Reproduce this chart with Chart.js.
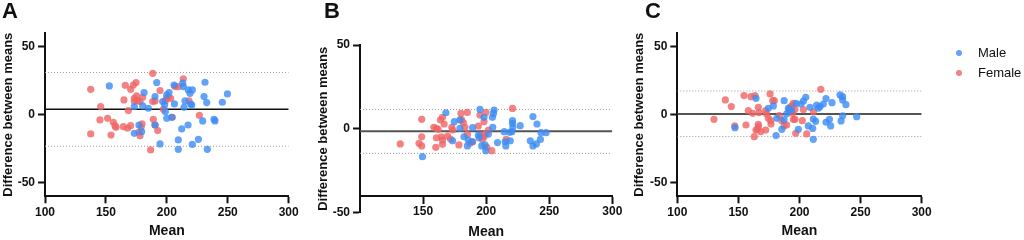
<!DOCTYPE html>
<html lang="en">
<head>
    <meta charset="UTF-8" />
    <title>Bland-Altman by sex</title>
    <script src="https://cdn.jsdelivr.net/npm/chart.js@4.4.1/dist/chart.umd.min.js"></script>
    <style>
        body { margin: 0; background: #fff; }
        #wrap { position: relative; width: 1024px; height: 240px; overflow: hidden; }
        #wrap canvas { position: absolute; left: 0; top: 0; }
        .legend { position: absolute; left: 955px; font: 13px "Liberation Sans", Arial, sans-serif; color: #111; }
        .legend .row { position: absolute; left: 0; height: 16px; line-height: 16px; white-space: nowrap; }
        .legend .dot { position: absolute; left: 1px; top: 5px; width: 6px; height: 6px; border-radius: 50%; }
        .legend .txt { position: absolute; left: 23px; top: 0; }
    </style>
</head>
<body>
<div id="wrap">
    <canvas id="chartA" width="1024" height="240"></canvas>
    <canvas id="chartB" width="1024" height="240"></canvas>
    <canvas id="chartC" width="1024" height="240"></canvas>
    <div class="legend">
        <div class="row" style="top:45px"><span class="dot" style="background:rgba(60,140,245,0.8)"></span><span class="txt">Male</span></div>
        <div class="row" style="top:65px"><span class="dot" style="background:rgba(240,100,100,0.8)"></span><span class="txt">Female</span></div>
    </div>
</div>

<script>
    // Panel A
    const aMaleX = [152.8, 181.3, 173.3, 180.2, 184.8, 190.3, 191.7, 196.6, 198.2, 199.9, 201.8, 198.8, 199.9, 206.2, 205.9, 213, 213.5, 214.1, 214.9, 217.6, 219, 220.9, 220.4, 230.5, 232.7, 231.3, 245.5, 249.7, 238.7, 239.5, 229.4, 217.4, 212.2, 177.1, 179.3, 173.3, 194.4, 209.4, 209.4, 220.9, 225.9, 233.2, 190.3, 204.0, 219.6];
    const aMaleY = [21.1, 16.2, 5.9, 6.4, 4.7, 13.3, 23.6, 9.6, 7.1, 14.5, 16.2, 2.2, -2.7, 7.9, 21.8, 23.1, 20.6, 5.4, 10.1, 18.2, 15.7, 18.2, 7.1, 13.3, 8.9, 23.8, 9.1, 15.2, -3.4, -4.6, -4.6, -7.6, -10.5, -7.6, -12.5, -13.7, -21.5, -18.6, -25.5, -21.8, -18.1, -25.5, -7.6, -2.0, 7.8];
    const aFemaleX = [137.5, 137.5, 145.7, 145.1, 151.4, 154.2, 156.1, 157.5, 158.3, 164.3, 164.8, 165.9, 168.4, 167.8, 170.3, 170.3, 172.5, 174.7, 173.3, 175.2, 173.3, 175.9, 178, 180.2, 177.1, 178.8, 179.6, 178, 188.4, 190.3, 188.9, 190.3, 192.5, 188.4, 194.4, 197.1, 198.8, 201.2, 199.9, 203.1, 204.5, 206.7, 209.4, 213.5, 218.2, 226.7, 186.7];
    const aFemaleY = [18.6, -14.2, 5.9, -3.9, -2.7, -15.0, -5.6, -8.3, -9.3, -8.8, 10.8, 21.6, 3.0, -10.0, 18.6, -8.1, 21.8, 23.6, 12.0, 13.8, 9.6, 10.3, 9.6, 12.8, -12.8, -9.3, -6.8, -15.5, 30.4, 10.1, -3.4, -7.6, -11.7, 9.6, 17.7, 3.9, 10.3, 12.8, 12.0, 12.0, -1.9, 20.6, 20.6, 26.3, 10.1, -0.5, -25.9];
    const aLines = { mean: 4.0, upper: 31.0, lower: -23.2 };

    // Panel B
    const bMaleX = [149.5, 168.1, 174.7, 179.2, 179.2, 173.4, 182.4, 185.8, 185.1, 189.3, 189, 193.8, 195.1, 194.4, 196.5, 199.1, 199.7, 198.3, 201.8, 205.2, 205, 205.8, 206.3, 209, 214.3, 215.1, 215.6, 219.1, 218.5, 220.4, 221.2, 220.9, 220.9, 227, 237.1, 240.3, 243.5, 247.5, 243, 235, 237.1, 239.8];
    const bMaleY = [-16.6, 9.6, 4.3, 0.3, 5.3, -7.1, -4.7, -6.7, -10.2, 0.7, -7.7, -3.7, 11.6, -5.3, -10.2, -9.6, -13.0, 6.9, -3.1, 0.9, 6.9, 9.2, 11.2, -8.2, -1.7, -7.7, -10.2, -7.1, -2.1, -1.7, 0.9, 4.9, 3.3, 1.9, 7.3, 2.9, -2.3, -2.3, -6.3, -7.1, -10.2, -9.0];
    const bFemaleX = [131.9, 146.8, 148.9, 148.9, 148.9, 158.5, 160.6, 161.9, 160.6, 160.1, 163.8, 165.4, 166.7, 164.6, 165.4, 165.4, 169.4, 171.8, 172.8, 173.4, 178.4, 180, 180.5, 181.9, 183.2, 185.1, 185.1, 187.2, 189.3, 193.8, 195.1, 198.3, 199.9, 195.7, 197, 198.3, 199.1, 200.5, 204.5, 201.8, 215.9, 220.9];
    const bFemaleY = [-9.0, -8.6, -10.2, 5.7, -4.7, 0.9, 0.3, -0.3, -5.3, -11.0, 5.3, 6.9, 2.9, -4.7, -6.7, -9.2, -4.3, -6.1, 0.9, -0.7, -9.6, 9.2, 5.3, 3.7, 0.9, 9.8, -3.3, -8.6, -7.7, 1.7, 8.2, 4.3, 9.8, -3.7, -6.3, -4.7, -3.1, -11.0, -13.0, -0.7, -6.3, 12.2];
    const bLines = { mean: -1.5, upper: 11.6, lower: -14.6 };

    // Panel C
    const cMaleX = [147.2, 164.4, 174.5, 178.6, 181.4, 180.8, 185.5, 187.4, 187.4, 189.5, 190.9, 191.4, 193.6, 197.2, 199.1, 201.2, 203.2, 205.1, 207.2, 208.6, 210.8, 211.3, 211.3, 213.2, 214, 215.4, 216.8, 219.5, 221.7, 221.7, 224.5, 225.5, 226.6, 233.2, 235.3, 235.3, 238, 235.3, 234, 246.8];
    const cMaleY = [-9.6, 12.0, 4.7, 6.4, -2.7, -15.4, -10.8, 10.3, -3.9, 0.5, 4.7, 3.4, 3.4, 8.3, -10.8, 7.8, 10.0, 12.7, -8.3, 5.4, -10.1, -18.1, -3.2, -4.9, 7.1, 4.7, 5.9, 7.8, 11.8, -5.6, -3.4, -8.3, 8.8, 14.5, 13.2, 10.8, 7.3, -0.9, -4.6, -1.5];
    const cFemaleX = [130, 139.3, 144.2, 147, 154.6, 156.2, 158.1, 160.3, 161.7, 163.6, 163, 164.4, 166.3, 166.9, 166.3, 166.3, 165.7, 168.2, 172.3, 173.1, 172.3, 174.5, 176.4, 176.7, 175.9, 178.1, 179.4, 183.5, 185.5, 187.4, 189.5, 192.2, 193.6, 195, 194.4, 195, 196.3, 196.3, 196.9, 202.3, 203.2, 205.9, 211.4, 217.4];
    const cFemaleY = [-3.4, 10.8, 5.9, -8.3, 14.0, -7.6, 2.9, 13.2, 1.0, 14.0, -16.2, -11.3, 5.4, 1.5, -7.1, -8.8, -10.8, -12.5, 2.9, 0.5, -11.3, -2.7, -4.4, -6.9, 15.2, 10.3, 10.3, -0.7, -4.4, -8.3, -7.6, 5.4, 6.4, 8.3, 1.0, -3.4, -3.4, 3.9, -13.7, -4.4, 3.7, -14.2, 2.2, 18.6];
    const cLines = { mean: 0.5, upper: 17.4, lower: -16.1 };

    const xTicks = [100, 150, 200, 250, 300];
    const yTicks = [-50, 0, 50];

    const MALE = "rgba(60,140,245,0.8)";
    const FEMALE = "rgba(240,100,100,0.8)";
    const FONT = "'Liberation Sans', Arial, sans-serif";
    const INK = "#111";

    function pts(xs, ys) {
        return xs.map((x, i) => ({ x, y: ys[i] }));
    }

    function hline(y, color, width, dash) {
        return {
            type: "line",
            data: [{ x: 100, y }, { x: 300, y }],
            borderColor: color,
            borderWidth: width,
            borderDash: dash,
            pointRadius: 0,
            order: 2,
        };
    }

    // draws the A / B / C letter
    const panelLetter = {
        id: "panelLetter",
        afterDraw(chart, args, opts) {
            const ctx = chart.ctx;
            ctx.save();
            ctx.font = "bold 22px " + FONT;
            ctx.fillStyle = INK;
            ctx.textBaseline = "alphabetic";
            ctx.fillText(opts.text, opts.x, opts.y);
            ctx.restore();
        },
    };

    function makePanel(id, p) {
        const axisFont = { family: FONT, size: 12, weight: "bold" };
        const xScale = {
            type: "linear",
            min: 100,
            max: 300,
            position: p.xPosition,
            afterBuildTicks: s => { s.ticks = p.xTicks.map(v => ({ value: v })); },
            afterFit: s => { s.height = p.xHeight; },
            border: { display: true, color: INK, width: 2 },
            grid: { display: true, drawOnChartArea: false, drawTicks: true, tickLength: 7, tickWidth: 2, tickColor: INK },
            ticks: { color: INK, font: axisFont, padding: 2, maxRotation: 0 },
            title: { display: true, text: "Mean", color: INK, font: { family: FONT, size: 14, weight: "bold" }, padding: { top: 0, bottom: 0 } },
        };
        const yScale = {
            type: "linear",
            min: p.yMin,
            max: p.yMax,
            afterBuildTicks: s => { s.ticks = yTicks.map(v => ({ value: v })); },
            afterFit: s => { s.width = p.yWidth; },
            border: { display: true, color: INK, width: 2 },
            grid: { display: true, drawOnChartArea: false, drawTicks: true, tickLength: 7, tickWidth: 2, tickColor: INK },
            ticks: { color: INK, font: axisFont, padding: 3 },
            title: { display: true, text: "Difference between means", color: INK, font: { family: FONT, size: 13, weight: "bold" }, padding: { top: 1, bottom: 0 } },
        };
        return new Chart(document.getElementById(id), {
            type: "scatter",
            data: {
                datasets: [
                    { label: "Male", data: pts(p.maleX, p.maleY), backgroundColor: MALE, borderWidth: 0, pointRadius: 3.6, order: 1 },
                    { label: "Female", data: pts(p.femaleX, p.femaleY), backgroundColor: FEMALE, borderWidth: 0, pointRadius: 3.6, order: 1 },
                    hline(p.lines.mean, p.meanColor, p.meanWidth, []),
                    hline(p.lines.upper, "#9a9a9a", 1, [1, 2]),
                    hline(p.lines.lower, "#9a9a9a", 1, [1, 2]),
                ],
            },
            options: {
                responsive: false,
                animation: false,
                events: [],
                layout: { padding: p.padding },
                scales: { x: xScale, y: yScale },
                plugins: {
                    legend: { display: false },
                    tooltip: { enabled: false },
                    panelLetter: p.letter,
                },
            },
            plugins: [panelLetter],
        });
    }

    makePanel("chartA", {
        maleX: aMaleX, maleY: aMaleY, femaleX: aFemaleX, femaleY: aFemaleY, lines: aLines,
        yMin: -60, yMax: 60, xTicks: xTicks, xPosition: "bottom",
        xHeight: 43.7, yWidth: 45,
        padding: { left: 0, top: 33, right: 735.3, bottom: 0 },
        meanColor: "#111", meanWidth: 1.5,
        letter: { text: "A", x: 2, y: 18 },
    });

    makePanel("chartB", {
        maleX: bMaleX, maleY: bMaleY, femaleX: bFemaleX, femaleY: bFemaleY, lines: bLines,
        yMin: -50, yMax: 50, xTicks: xTicks.slice(1), xPosition: { y: -40 },
        xHeight: 45, yWidth: 45,
        padding: { left: 315, top: 45, right: 411.7, bottom: 27.3 },
        meanColor: "#555", meanWidth: 2,
        letter: { text: "B", x: 324, y: 18 },
    });

    makePanel("chartC", {
        maleX: cMaleX, maleY: cMaleY, femaleX: cFemaleX, femaleY: cFemaleY, lines: cLines,
        yMin: -60, yMax: 60, xTicks: xTicks, xPosition: "bottom",
        xHeight: 43.7, yWidth: 46.3,
        padding: { left: 631, top: 33, right: 102.3, bottom: 0 },
        meanColor: "#555", meanWidth: 2,
        letter: { text: "C", x: 645, y: 18 },
    });
</script>
</body>
</html>
